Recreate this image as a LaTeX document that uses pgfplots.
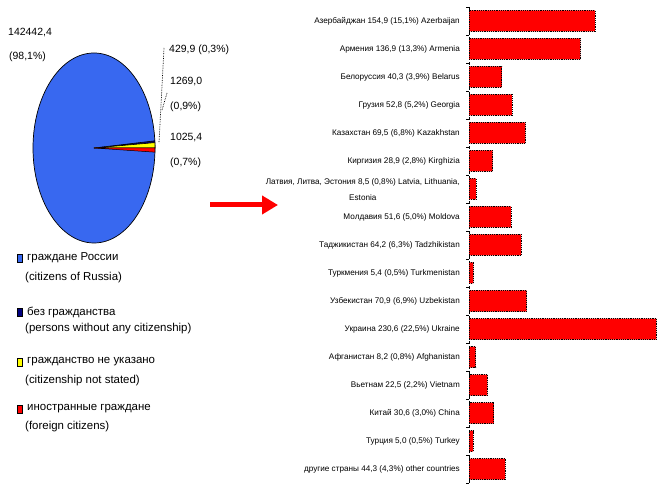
\documentclass[border=0pt]{standalone}
\usepackage{fontspec}
\setmainfont{Liberation Sans}
\usepackage{pgfplots}
\pgfplotsset{compat=1.18}
\usetikzlibrary{arrows.meta}
\definecolor{pieblue}{RGB}{56,104,240}
\definecolor{pienavy}{RGB}{0,0,128}
\definecolor{pieyellow}{RGB}{255,255,0}
\definecolor{piered}{RGB}{255,0,0}
\begin{document}
\begin{tikzpicture}[x=1bp,y=1bp]
\path[use as bounding box] (0,0) rectangle (663,495);
% pie shares in percent
\def\pRus{98.1}\def\pNone{0.3}\def\pNS{0.9}\def\pFor{0.7}
\pgfmathsetmacro{\aRedS}{-\pFor*3.6}
\pgfmathsetmacro{\aYelE}{\pNS*3.6}
\pgfmathsetmacro{\aNavE}{(\pNS+\pNone)*3.6}
\begin{axis}[at={(33bp,252bp)}, anchor=south west, width=122bp, height=190bp,
  scale only axis, xmin=-1, xmax=1, ymin=-1, ymax=1, hide axis, clip=false]
\addplot[draw=none] coordinates {(0,0)};
\coordinate (pc) at (axis cs:0,0);
\end{axis}
\fill[pieblue, draw=black, line width=0.7bp] (pc) ellipse[x radius=61, y radius=95];
\fill[pienavy, draw=black, line width=0.6bp] (pc) -- ++({61*cos(\aYelE)},{95*sin(\aYelE)})
  -- ++({61*cos(\aNavE)-61*cos(\aYelE)},{95*sin(\aNavE)-95*sin(\aYelE)}) -- cycle;
\fill[pieyellow, draw=black, line width=0.6bp] (pc) -- ++(61,0)
  -- ++({61*cos(\aYelE)-61},{95*sin(\aYelE)}) -- cycle;
\begin{scope}[xshift=6bp]
\fill[piered, draw=black, line width=0.5bp] (pc) -- ++({61*cos(\aRedS)},{95*sin(\aRedS)})
  -- ++({61-61*cos(\aRedS)},{-95*sin(\aRedS)}) -- cycle;
\end{scope}
% pie labels
\begin{scope}[every node/.style={font=\fontsize{10.5}{12}\selectfont, inner sep=0pt, anchor=west}]
\node at (8,462) {142442,4};
\node at (9,438) {(98,1\%)};
\node at (169,445) {429,9 (0,3\%)};
\node at (170,413) {1269,0};
\node at (170,388) {(0,9\%)};
\node at (170,357) {1025,4};
\node at (170,332) {(0,7\%)};
\end{scope}
\draw[black, densely dotted, line width=0.7bp] (164,447) -- (159,352);
\draw[black, densely dotted, line width=0.7bp] (167,402) -- (162,385);
% legend
\begin{scope}[every node/.style={font=\fontsize{11.5}{13}\selectfont, inner sep=0pt, anchor=west}]
\filldraw[fill=pieblue, draw=black, line width=0.6bp] (17.5,233) rectangle (22.5,241);
\node at (27,237) {граждане России};
\node at (25,217) {(citizens of Russia)};
\filldraw[fill=pienavy, draw=black, line width=0.6bp] (17.5,179) rectangle (22.5,187);
\node at (27,183) {без гражданства};
\node at (25,166) {(persons without any citizenship)};
\filldraw[fill=pieyellow, draw=black, line width=0.6bp] (17.5,129) rectangle (22.5,137);
\node at (27,133) {гражданство не указано};
\node at (25,114) {(citizenship not stated)};
\filldraw[fill=piered, draw=black, line width=0.6bp] (17.5,82) rectangle (22.5,90);
\node at (27,86) {иностранные граждане};
\node at (25,68) {(foreign citizens)};
\end{scope}
% arrow
\draw[piered, line width=5bp, -{Triangle[length=16bp, width=18bp]}] (210,290) -- (278,290);
% bar chart
\begin{axis}[at={(469bp,12bp)}, anchor=south west, width=191bp, height=476bp,
  scale only axis, xbar, bar width=21bp, xmin=0, xmax=235,
  ymin=-0.5, ymax=16.5, y dir=reverse,
  axis x line=none, axis y line*=left,
  axis line style={-, black, densely dashed, line width=0.7bp},
  ytick={0,...,16}, major tick length=0pt,
  minor ytick={-0.5,0.5,...,16.5}, minor tick length=3bp, tick align=outside,
  tick style={black, line width=0.7bp},
  yticklabel style={font=\fontsize{8.2}{16}\selectfont, inner sep=0pt, anchor=east, xshift=-9bp},
  yticklabels={
    {Азербайджан 154,9 (15,1\%) Azerbaijan},
    {Армения 136,9 (13,3\%) Armenia},
    {Белоруссия 40,3 (3,9\%) Belarus},
    {Грузия 52,8 (5,2\%) Georgia},
    {Казахстан 69,5 (6,8\%) Kazakhstan},
    {Киргизия 28,9 (2,8\%) Kirghizia},
    {\begin{tabular}{@{}c@{}}Латвия, Литва, Эстония 8,5 (0,8\%) Latvia, Lithuania,\\Estonia\end{tabular}},
    {Молдавия 51,6 (5,0\%) Moldova},
    {Таджикистан 64,2 (6,3\%) Tadzhikistan},
    {Туркмения 5,4 (0,5\%) Turkmenistan},
    {Узбекистан 70,9 (6,9\%) Uzbekistan},
    {Украина 230,6 (22,5\%) Ukraine},
    {Афганистан 8,2 (0,8\%) Afghanistan},
    {Вьетнам 22,5 (2,2\%) Vietnam},
    {Китай 30,6 (3,0\%) China},
    {Турция 5,0 (0,5\%) Turkey},
    {другие страны 44,3 (4,3\%) other countries}
  }]
\addplot[fill=piered, draw=black, line width=0.8bp, dash pattern=on 1.2bp off 1bp]
coordinates {
(154.9,0) (136.9,1) (40.3,2) (52.8,3) (69.5,4) (28.9,5) (8.5,6) (51.6,7) (64.2,8)
(5.4,9) (70.9,10) (230.6,11) (8.2,12) (22.5,13) (30.6,14) (5.0,15) (44.3,16)
};
\end{axis}
\end{tikzpicture}
\end{document}
